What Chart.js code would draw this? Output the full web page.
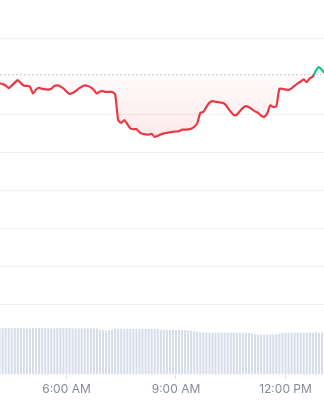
<!DOCTYPE html>
<html><head><meta charset="utf-8">
<script src="https://cdn.jsdelivr.net/npm/chart.js@4"></script>
<style>html,body{margin:0;padding:0;background:#fff;overflow:hidden}canvas{display:block}</style>
</head><body>
<canvas id="c" width="324" height="400"></canvas>
<script>
// ---- data ----
const startMinute = 250;      // first sample, minutes after midnight (≈4:10 AM)
const stepMinutes = 5;        // sampling interval
const viewMin = 250.7;        // visible time window (minutes)
const viewMax = 783.3;
const openPrice = 67008;      // dotted reference line
const prices = [
  66962, 66958, 66951, 66937, 66950, 66966, 66979, 66963, 66950, 66949,
  66944, 66909, 66930, 66939, 66933, 66931, 66929, 66934, 66948, 66951,
  66946, 66935, 66919, 66906, 66912, 66921, 66934, 66944, 66951, 66948,
  66941, 66927, 66909, 66919, 66921, 66917, 66917, 66917, 66903, 66768,
  66755, 66769, 66748, 66726, 66721, 66722, 66705, 66697, 66694, 66692,
  66697, 66681, 66687, 66694, 66699, 66702, 66705, 66708, 66709, 66711,
  66719, 66719, 66720, 66724, 66734, 66753, 66807, 66812, 66838, 66861,
  66869, 66865, 66863, 66861, 66854, 66834, 66813, 66796, 66797, 66816,
  66833, 66842, 66837, 66826, 66815, 66807, 66792, 66786, 66805, 66847,
  66838, 66842, 66934, 66933, 66930, 66927, 66936, 66949, 66962, 66972,
  66983, 66968, 66989, 66998, 67029, 67047, 67032, 67013
];
const volumes = [
  31.1, 31.0, 31.2, 31.1, 31.0, 31.1, 31.2, 31.1, 31.0, 30.9,
  31.0, 31.1, 31.1, 31.2, 31.0, 31.1, 31.0, 30.9, 31.0, 31.1,
  31.0, 31.0, 31.1, 31.0, 30.9, 31.0, 31.0, 30.9, 31.0, 31.0,
  31.0, 30.9, 30.8, 29.8, 29.6, 29.5, 29.6, 29.8, 30.4, 30.5,
  30.6, 30.5, 30.6, 30.5, 30.4, 30.5, 30.6, 30.6, 30.5, 30.4,
  30.5, 30.5, 30.4, 30.0, 29.9, 29.9, 29.8, 29.9, 29.8, 29.9,
  29.7, 29.6, 29.5, 29.3, 29.0, 28.6, 28.2, 28.1, 28.1, 28.0,
  28.1, 28.1, 28.0, 28.1, 28.1, 28.0, 28.0, 28.1, 28.0, 28.1,
  28.0, 27.9, 27.7, 27.2, 26.9, 26.8, 26.8, 26.7, 26.8, 26.8,
  26.7, 26.9, 27.3, 27.8, 28.0, 28.1, 28.0, 28.0, 28.1, 28.0,
  28.1, 28.0, 28.1, 28.0, 28.1, 28.0, 28.0, 28.1
];
const tickMinutes = [360, 540, 720];
const tickLabels = ['6:00 AM', '9:00 AM', '12:00 PM'];
const gridPrices = [67200, 66800, 66600, 66400, 66200, 66000, 65800];
const priceAxisMin = 65432, priceAxisMax = 67400;
const volumeAxisMax = 250;

// ---- styling ----
const RED = '#ea3943', GREEN = '#16c784';

const times = prices.map((_, i) => startMinute + i * stepMinutes);
const priceData = prices.map((p, i) => ({x: times[i], y: p}));
const volumeData = volumes.map((v, i) => ({x: times[i], y: v}));

let strokeGrad = RED;
const gradPlugin = {
  id: 'grad',
  afterLayout(chart) {
    const {ctx, chartArea} = chart;
    const y = chart.scales.y;
    if (!chartArea) return;
    const by = y.getPixelForValue(openPrice);
    const span = chartArea.bottom - chartArea.top;
    const frac = Math.min(1, Math.max(0, (by - chartArea.top) / span));
    const g = ctx.createLinearGradient(0, chartArea.top, 0, chartArea.bottom);
    g.addColorStop(0, GREEN); g.addColorStop(frac, GREEN);
    g.addColorStop(frac, RED); g.addColorStop(1, RED);
    strokeGrad = g;
    const lowY = y.getPixelForValue(Math.min(...prices));
    const highY = y.getPixelForValue(Math.max(...prices));
    const below = ctx.createLinearGradient(0, by, 0, lowY);
    below.addColorStop(0, 'rgba(234,57,67,0.02)');
    below.addColorStop(1, 'rgba(234,57,67,0.11)');
    const above = ctx.createLinearGradient(0, by, 0, highY);
    above.addColorStop(0, 'rgba(22,199,132,0.02)');
    above.addColorStop(1, 'rgba(22,199,132,0.11)');
    const ds = chart.data.datasets[0];
    ds.fill.below = below;
    ds.fill.above = above;
  }
};

new Chart(document.getElementById('c'), {
  plugins: [gradPlugin],
  data: {
    datasets: [
      {
        type: 'line', label: 'Price', data: priceData, yAxisID: 'y', order: 0,
        borderColor: () => strokeGrad, borderWidth: 2.2, pointRadius: 0, tension: 0.2,
        borderJoinStyle: 'round', borderCapStyle: 'round',
        fill: {value: openPrice, above: 'rgba(22,199,132,0.06)', below: 'rgba(234,57,67,0.06)'}
      },
      {
        type: 'line', label: 'Open', yAxisID: 'y', order: 1,
        data: [{x: viewMin, y: openPrice}, {x: viewMax, y: openPrice}],
        borderColor: '#b9bdc4', borderWidth: 1, borderDash: [1.5, 2.5], pointRadius: 0, fill: false
      },
      {
        type: 'bar', label: 'Volume', data: volumeData, yAxisID: 'y1', order: 2,
        backgroundColor: '#d5dcea', barPercentage: 1, categoryPercentage: 0.66
      }
    ]
  },
  options: {
    responsive: false, animation: false, devicePixelRatio: 1,
    layout: {padding: {left: 0, right: 0, top: 0, bottom: -1}},
    plugins: {legend: {display: false}, tooltip: {enabled: false}, filler: {drawTime: 'beforeDatasetsDraw'}},
    scales: {
      x: {
        type: 'linear', min: viewMin, max: viewMax, offset: false,
        grid: {drawOnChartArea: false, drawTicks: true, tickLength: 4, color: '#dde1e8', offset: false},
        border: {display: false},
        ticks: {
          color: '#858b97', font: {family: 'Inter', size: 12}, padding: 4,
          autoSkip: false, maxRotation: 0,
          callback: (v) => tickLabels[tickMinutes.indexOf(v)] ?? ''
        },
        afterBuildTicks: (s) => { s.ticks = tickMinutes.map(v => ({value: v})); }
      },
      y: {
        position: 'left', min: priceAxisMin, max: priceAxisMax,
        ticks: {display: false},
        grid: {color: '#f0f1f3', drawTicks: false},
        border: {display: false},
        afterBuildTicks: (s) => { s.ticks = gridPrices.map(v => ({value: v})); }
      },
      y1: {display: false, min: 0, max: volumeAxisMax}
    }
  }
});
</script>
</body></html>
